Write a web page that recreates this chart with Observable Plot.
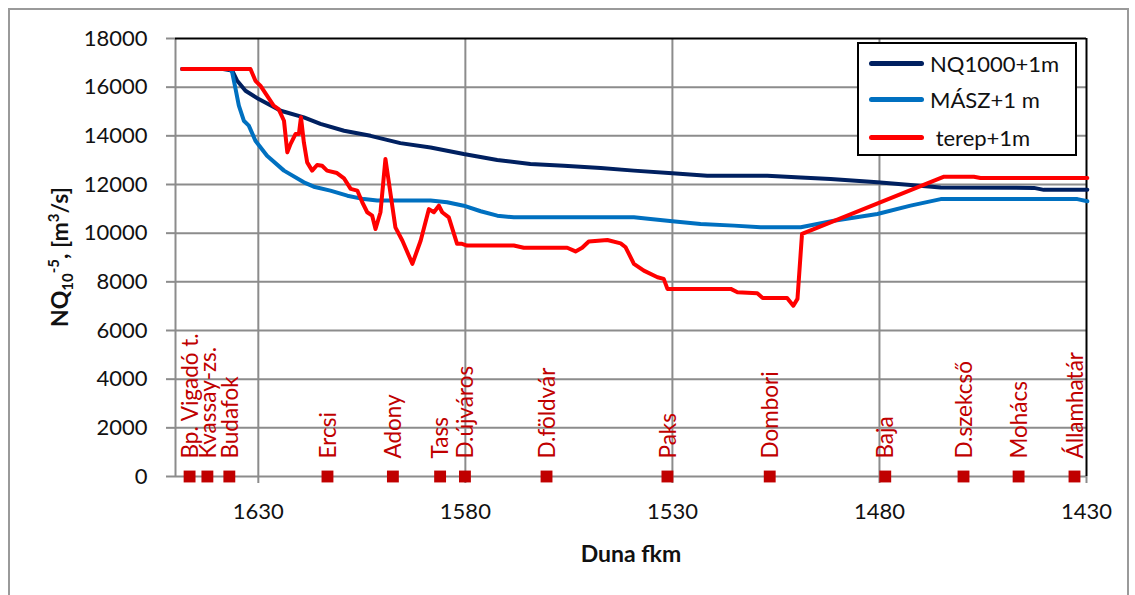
<!DOCTYPE html>
<html>
<head>
<meta charset="utf-8">
<script src="https://cdn.jsdelivr.net/npm/d3@7"></script>
<script src="https://cdn.jsdelivr.net/npm/@observablehq/plot@0.6"></script>
<style>
  body { margin: 0; background: #fff; }
  #wrap { position: relative; width: 1135px; height: 595px; overflow: hidden; font-family: Lato, "Open Sans", sans-serif; }
  #frame { position: absolute; left: 8px; top: 8px; width: 1117px; height: 600px; border: 2px solid #9a9a9a; }
  #chart { position: absolute; left: 0; top: 0; }
  #ylab { position: absolute; left: 60px; top: 257px; transform: translate(-50%, -50%) rotate(-90deg); white-space: nowrap; font-weight: bold; font-size: 23px; color: #111; }
  #ylab sub, #ylab sup { font-size: 15px; }
  #legend { position: absolute; left: 857px; top: 42px; width: 216px; height: 110px; border: 2px solid #000; background: #fff; }
  .row { position: absolute; left: 0; height: 30px; width: 216px; }
  .sw { position: absolute; left: 10px; top: 12px; width: 55px; height: 5px; border-radius: 3px; }
  .lt { position: absolute; left: 71px; top: 0; font-size: 22px; line-height: 30px; color: #111; white-space: pre; }
</style>
</head>
<body>
<div id="wrap">
  <div id="frame"></div>
  <div id="chart"></div>
  <div id="ylab">NQ<sub>10</sub><sup>-5</sup>, [m<sup>3</sup>/s]</div>
  <div id="legend"></div>
</div>
<script>
// ---- data ----
const xTicks = [1630, 1580, 1530, 1480, 1430];
const yTicks = [0, 2000, 4000, 6000, 8000, 10000, 12000, 14000, 16000, 18000];

const seriesNames = ["NQ1000+1m", "MÁSZ+1 m", " terep+1m"];
const seriesColors = ["#002060", "#0070c0", "#ff0000"];

const nqFkm = [1648.4, 1641, 1638.5, 1636.3, 1635.1, 1633.1, 1629.9, 1624.6, 1619, 1615, 1609.3, 1602.9, 1595.7, 1588.4, 1580.4, 1572.3, 1564.3, 1556.2, 1547.3, 1539.3, 1530, 1521.6, 1507.1, 1499, 1491.8, 1480.5, 1465.2, 1442.7, 1440.3, 1429.8];
const nqVal = [16750, 16750, 16750, 16680, 16260, 15850, 15510, 15030, 14760, 14490, 14210, 14000, 13700, 13520, 13250, 13010, 12840, 12770, 12680, 12570, 12460, 12360, 12360, 12290, 12230, 12090, 11880, 11860, 11780, 11780];

const maszFkm = [1648.4, 1636.8, 1636.3, 1635.5, 1634.7, 1633.5, 1632.3, 1630.7, 1627.9, 1623.8, 1619, 1616.6, 1612.6, 1608.5, 1604.5, 1601.3, 1588.4, 1584.4, 1580.4, 1576.3, 1572.3, 1568.3, 1539.3, 1535.3, 1530, 1523.2, 1515.1, 1508.7, 1499, 1491, 1480.5, 1472.5, 1465.2, 1432.2, 1429.8];
const maszVal = [16750, 16750, 16600, 15930, 15240, 14620, 14420, 13800, 13180, 12570, 12090, 11910, 11750, 11540, 11400, 11340, 11340, 11270, 11130, 10900, 10720, 10650, 10650, 10580, 10490, 10380, 10310, 10240, 10240, 10510, 10790, 11130, 11400, 11400, 11310];

const terepFkm = [1648.4, 1631.9, 1630.7, 1629.5, 1627.9, 1626.3, 1625.1, 1623.8, 1623.0, 1622.2, 1621.0, 1620.2, 1619.7, 1619.0, 1618.2, 1617.0, 1615.8, 1614.6, 1613.4, 1611.0, 1609.3, 1607.7, 1606.1, 1604.9, 1603.7, 1602.5, 1601.7, 1600.5, 1599.3, 1598.1, 1596.9, 1595.2, 1592.8, 1590.8, 1588.8, 1587.6, 1586.4, 1585.6, 1584.0, 1582.0, 1580.8, 1579.6, 1568.3, 1565.9, 1555.4, 1553.4, 1551.8, 1550.2, 1545.7, 1542.5, 1541.3, 1539.3, 1536.9, 1533.6, 1532.1, 1531.2, 1515.9, 1514.3, 1509.5, 1508.2, 1502.3, 1500.8, 1499.8, 1498.7, 1464.4, 1457.2, 1455.6, 1429.8];
const terepVal = [16750, 16750, 16260, 16060, 15650, 15240, 15100, 14620, 13320, 13670, 14080, 14080, 14760, 13730, 12910, 12570, 12800, 12770, 12570, 12470, 12250, 11820, 11750, 11270, 10860, 10720, 10170, 10860, 13050, 11650, 10240, 9690, 8740, 9690, 10990, 10860, 11130, 10860, 10650, 9560, 9560, 9490, 9490, 9400, 9400, 9250, 9400, 9660, 9720, 9580, 9420, 8740, 8460, 8190, 8120, 7710, 7710, 7570, 7530, 7340, 7340, 7020, 7300, 9970, 12320, 12320, 12270, 12270];

const stationNames = ["Bp. Vigadó t.", "Kvassay-zs.", "Budafok", "Ercsi", "Adony", "Tass", "D.újváros", "D.földvár", "Paks", "Dombori", "Baja", "D.szekcső", "Mohács", "Államhatár"];
const stationFkm = [1646.6, 1642.3, 1637.0, 1613.3, 1597.5, 1586.1, 1580.1, 1560.4, 1531.2, 1506.5, 1478.6, 1459.7, 1446.4, 1432.9];

// ---- build tables ----
const toRows = (xs, ys) => xs.map((x, i) => ({fkm: x, q: ys[i]}));
const nqRows = toRows(nqFkm, nqVal);
const maszRows = toRows(maszFkm, maszVal);
const terepRows = toRows(terepFkm, terepVal);
const stations = stationNames.map((n, i) => ({name: n, fkm: stationFkm[i]}));

const grid = "#8c8c8c";
const chart = Plot.plot({
  width: 1135,
  height: 595,
  marginLeft: 175,
  marginRight: 49,
  marginTop: 38,
  marginBottom: 119,
  style: {fontFamily: "Lato, 'Open Sans', sans-serif", fontSize: "22px", color: "#111", background: "transparent", overflow: "visible"},
  x: {domain: [1650, 1430], ticks: xTicks, label: null},
  y: {domain: [0, 18000], ticks: yTicks, label: null},
  marks: [
    Plot.ruleY(yTicks.filter(d => d > 0 && d < 18000), {stroke: grid, strokeWidth: 2}),
    Plot.ruleX(xTicks.filter(d => d !== 1430), {stroke: grid, strokeWidth: 2}),
    Plot.axisY({ticks: yTicks, tickSize: 9, tickPadding: 19, stroke: grid, strokeWidth: 2, fill: "#111", tickFormat: d => String(d), label: null}),
    Plot.axisX({ticks: xTicks, tickSize: 7, tickPadding: 20, stroke: grid, strokeWidth: 2, fill: "#111", tickFormat: d => String(d), label: null}),
    Plot.ruleX([1650], {stroke: grid, strokeWidth: 2}),
    Plot.ruleY([0], {stroke: grid, strokeWidth: 2}),
    Plot.ruleY([18000], {stroke: "#000", strokeWidth: 2}),
    Plot.ruleX([1430], {stroke: "#000", strokeWidth: 2}),
    Plot.line(nqRows, {x: "fkm", y: "q", stroke: seriesColors[0], strokeWidth: 4}),
    Plot.line(maszRows, {x: "fkm", y: "q", stroke: seriesColors[1], strokeWidth: 4}),
    Plot.line(terepRows, {x: "fkm", y: "q", stroke: seriesColors[2], strokeWidth: 4}),
    Plot.dot(stations, {x: "fkm", y: d => 0, symbol: "square", r: 6.7, fill: "#c00000", stroke: null}),
    Plot.text(stations, {x: "fkm", y: d => 0, text: "name", rotate: -90, textAnchor: "start", lineAnchor: "middle", dy: -18, dx: 1, fill: "#c00000", fontSize: 22.5}),
    Plot.text(["Duna fkm"], {frameAnchor: "bottom", dy: 85, text: d => d, fontWeight: "bold", fontSize: 23, fill: "#111"})
  ]
});
document.getElementById("chart").appendChild(chart);

// legend
const legend = document.getElementById("legend");
const rowTops = [5, 41, 79];
seriesNames.forEach((n, i) => {
  const row = document.createElement("div");
  row.className = "row";
  row.style.top = rowTops[i] + "px";
  const sw = document.createElement("div");
  sw.className = "sw";
  sw.style.background = seriesColors[i];
  const lt = document.createElement("div");
  lt.className = "lt";
  lt.textContent = n;
  row.appendChild(sw);
  row.appendChild(lt);
  legend.appendChild(row);
});
</script>
</body>
</html>
